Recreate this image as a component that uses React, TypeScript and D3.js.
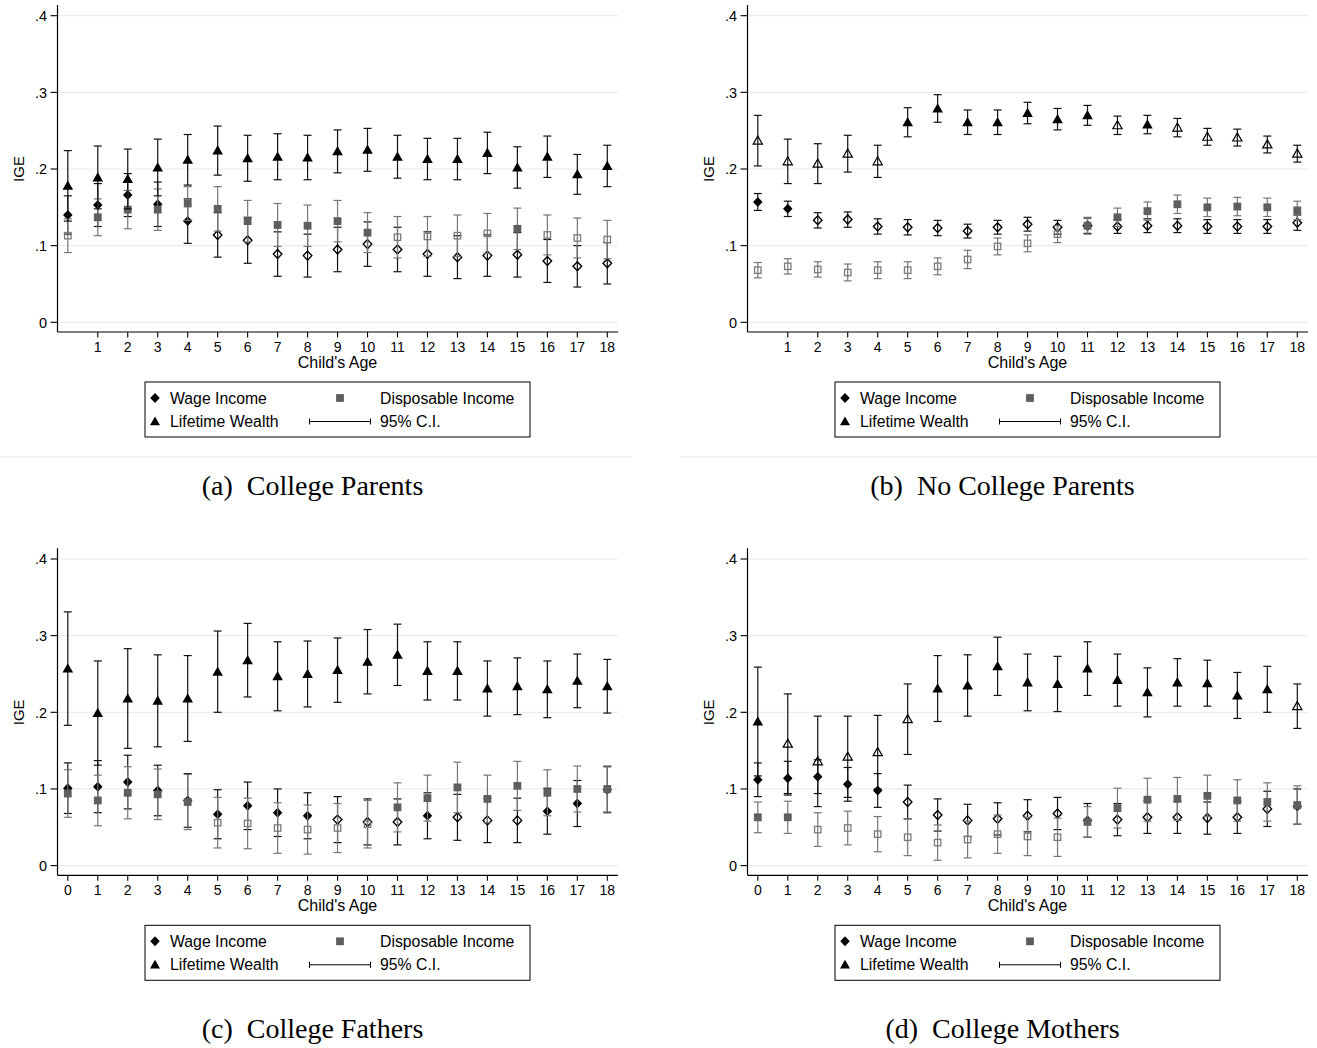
import React from "react";
import * as d3 from "d3";

// ---------- data ----------
const AGES = [0, 1, 2, 3, 4, 5, 6, 7, 8, 9, 10, 11, 12, 13, 14, 15, 16, 17, 18];
const Y_TICKS = [0, 0.1, 0.2, 0.3, 0.4];
const Y_TICK_LABELS = ["0", ".1", ".2", ".3", ".4"];
const LEGEND_LABELS = ["Wage Income", "Disposable Income", "Lifetime Wealth", "95% C.I."];
const X_TITLE = "Child's Age";
const Y_TITLE = "IGE";

// Panel (a) College Parents
const A_WAGE_EST = [0.140, 0.153, 0.166, 0.154, 0.132, 0.114, 0.107, 0.089, 0.087, 0.095, 0.102, 0.095, 0.089, 0.085, 0.087, 0.088, 0.080, 0.073, 0.077];
const A_WAGE_HW = [0.025, 0.028, 0.028, 0.029, 0.029, 0.029, 0.030, 0.029, 0.028, 0.029, 0.029, 0.029, 0.029, 0.028, 0.027, 0.029, 0.028, 0.027, 0.027];
const A_WAGE_SIG = [1, 1, 1, 1, 1, 0, 0, 0, 0, 0, 0, 0, 0, 0, 0, 0, 0, 0, 0];
const A_DISP_EST = [0.113, 0.137, 0.147, 0.147, 0.155, 0.148, 0.132, 0.127, 0.126, 0.132, 0.117, 0.111, 0.112, 0.113, 0.116, 0.122, 0.114, 0.110, 0.108];
const A_DISP_HW = [0.022, 0.024, 0.025, 0.027, 0.022, 0.029, 0.027, 0.028, 0.027, 0.027, 0.026, 0.027, 0.026, 0.027, 0.026, 0.027, 0.026, 0.026, 0.025];
const A_DISP_SIG = [0, 1, 1, 1, 1, 1, 1, 1, 1, 1, 1, 0, 0, 0, 0, 1, 0, 0, 0];
const A_WLTH_EST = [0.178, 0.189, 0.187, 0.202, 0.212, 0.224, 0.214, 0.216, 0.215, 0.223, 0.225, 0.216, 0.213, 0.213, 0.221, 0.202, 0.216, 0.193, 0.204];
const A_WLTH_HW = [0.046, 0.041, 0.039, 0.037, 0.033, 0.032, 0.030, 0.030, 0.029, 0.028, 0.028, 0.028, 0.027, 0.027, 0.027, 0.027, 0.027, 0.026, 0.027];
const A_WLTH_SIG = [1, 1, 1, 1, 1, 1, 1, 1, 1, 1, 1, 1, 1, 1, 1, 1, 1, 1, 1];

// Panel (b) No College Parents
const B_WAGE_EST = [0.157, 0.148, 0.133, 0.134, 0.125, 0.124, 0.123, 0.119, 0.124, 0.128, 0.124, 0.126, 0.125, 0.126, 0.126, 0.125, 0.125, 0.125, 0.130];
const B_WAGE_HW = [0.011, 0.010, 0.010, 0.010, 0.010, 0.010, 0.010, 0.009, 0.009, 0.009, 0.009, 0.010, 0.009, 0.009, 0.009, 0.009, 0.009, 0.009, 0.010];
const B_WAGE_SIG = [1, 1, 0, 0, 0, 0, 0, 0, 0, 0, 0, 0, 0, 0, 0, 0, 0, 0, 0];
const B_DISP_EST = [0.068, 0.073, 0.069, 0.065, 0.068, 0.068, 0.073, 0.082, 0.099, 0.103, 0.115, 0.126, 0.137, 0.145, 0.154, 0.150, 0.151, 0.150, 0.146];
const B_DISP_HW = [0.010, 0.010, 0.010, 0.011, 0.011, 0.011, 0.011, 0.012, 0.011, 0.011, 0.011, 0.011, 0.012, 0.012, 0.012, 0.012, 0.012, 0.012, 0.012];
const B_DISP_SIG = [0, 0, 0, 0, 0, 0, 0, 0, 0, 0, 0, 1, 1, 1, 1, 1, 1, 1, 1];
const B_WLTH_EST = [0.237, 0.210, 0.207, 0.220, 0.210, 0.261, 0.279, 0.261, 0.261, 0.273, 0.265, 0.270, 0.257, 0.258, 0.254, 0.242, 0.241, 0.232, 0.220];
const B_WLTH_HW = [0.033, 0.029, 0.026, 0.024, 0.021, 0.019, 0.018, 0.016, 0.016, 0.014, 0.014, 0.013, 0.012, 0.012, 0.012, 0.011, 0.011, 0.011, 0.011];
const B_WLTH_SIG = [0, 0, 0, 0, 0, 1, 1, 1, 1, 1, 1, 1, 0, 1, 0, 0, 0, 0, 0];

// Panel (c) College Fathers
const C_WAGE_EST = [0.101, 0.103, 0.109, 0.098, 0.085, 0.067, 0.078, 0.069, 0.065, 0.060, 0.057, 0.057, 0.065, 0.063, 0.059, 0.059, 0.071, 0.081, 0.099];
const C_WAGE_HW = [0.033, 0.034, 0.035, 0.033, 0.035, 0.032, 0.031, 0.031, 0.030, 0.030, 0.030, 0.030, 0.030, 0.030, 0.029, 0.029, 0.030, 0.030, 0.030];
const C_WAGE_SIG = [1, 1, 1, 1, 1, 1, 1, 1, 1, 0, 0, 0, 1, 0, 0, 0, 1, 1, 1];
const C_DISP_EST = [0.094, 0.085, 0.095, 0.093, 0.083, 0.056, 0.055, 0.049, 0.047, 0.049, 0.054, 0.076, 0.088, 0.102, 0.087, 0.104, 0.095, 0.100, 0.100];
const C_DISP_HW = [0.031, 0.033, 0.034, 0.033, 0.036, 0.033, 0.033, 0.033, 0.032, 0.032, 0.031, 0.032, 0.030, 0.033, 0.031, 0.032, 0.030, 0.030, 0.030];
const C_DISP_SIG = [1, 1, 1, 1, 1, 0, 0, 0, 0, 0, 0, 1, 1, 1, 1, 1, 1, 1, 1];
const C_WLTH_EST = [0.257, 0.199, 0.218, 0.215, 0.218, 0.253, 0.268, 0.247, 0.250, 0.255, 0.266, 0.275, 0.254, 0.254, 0.231, 0.234, 0.230, 0.241, 0.234];
const C_WLTH_HW = [0.074, 0.068, 0.065, 0.060, 0.056, 0.053, 0.048, 0.045, 0.043, 0.042, 0.042, 0.040, 0.038, 0.038, 0.036, 0.037, 0.037, 0.035, 0.035];
const C_WLTH_SIG = [1, 1, 1, 1, 1, 1, 1, 1, 1, 1, 1, 1, 1, 1, 1, 1, 1, 1, 1];

// Panel (d) College Mothers
const D_WAGE_EST = [0.112, 0.114, 0.116, 0.106, 0.098, 0.083, 0.066, 0.059, 0.061, 0.065, 0.068, 0.059, 0.060, 0.063, 0.063, 0.062, 0.063, 0.074, 0.077];
const D_WAGE_HW = [0.022, 0.022, 0.022, 0.022, 0.022, 0.022, 0.021, 0.021, 0.021, 0.021, 0.021, 0.022, 0.021, 0.021, 0.021, 0.021, 0.021, 0.023, 0.023];
const D_WAGE_SIG = [1, 1, 1, 1, 1, 0, 0, 0, 0, 0, 0, 1, 0, 0, 0, 0, 0, 0, 1];
const D_DISP_EST = [0.063, 0.063, 0.047, 0.049, 0.041, 0.037, 0.030, 0.034, 0.041, 0.038, 0.037, 0.057, 0.075, 0.086, 0.087, 0.091, 0.085, 0.083, 0.079];
const D_DISP_HW = [0.020, 0.021, 0.022, 0.022, 0.023, 0.024, 0.023, 0.024, 0.025, 0.025, 0.025, 0.020, 0.026, 0.028, 0.028, 0.027, 0.027, 0.025, 0.025];
const D_DISP_SIG = [1, 1, 0, 0, 0, 0, 0, 0, 0, 0, 0, 1, 1, 1, 1, 1, 1, 1, 1];
const D_WLTH_EST = [0.188, 0.159, 0.136, 0.142, 0.148, 0.191, 0.231, 0.235, 0.260, 0.239, 0.237, 0.257, 0.242, 0.226, 0.239, 0.238, 0.222, 0.230, 0.208];
const D_WLTH_HW = [0.071, 0.065, 0.059, 0.053, 0.048, 0.046, 0.043, 0.040, 0.038, 0.037, 0.036, 0.035, 0.034, 0.032, 0.031, 0.030, 0.030, 0.030, 0.029];
const D_WLTH_SIG = [1, 0, 0, 0, 0, 0, 1, 1, 1, 1, 1, 1, 1, 1, 1, 1, 1, 1, 0];

const PANELS = [
  { tag: "(a)", title: "College Parents", col: 0, row: 0, zeroTick: false,
    wage: [A_WAGE_EST, A_WAGE_HW, A_WAGE_SIG], disp: [A_DISP_EST, A_DISP_HW, A_DISP_SIG], wlth: [A_WLTH_EST, A_WLTH_HW, A_WLTH_SIG] },
  { tag: "(b)", title: "No College Parents", col: 1, row: 0, zeroTick: false,
    wage: [B_WAGE_EST, B_WAGE_HW, B_WAGE_SIG], disp: [B_DISP_EST, B_DISP_HW, B_DISP_SIG], wlth: [B_WLTH_EST, B_WLTH_HW, B_WLTH_SIG] },
  { tag: "(c)", title: "College Fathers", col: 0, row: 1, zeroTick: true,
    wage: [C_WAGE_EST, C_WAGE_HW, C_WAGE_SIG], disp: [C_DISP_EST, C_DISP_HW, C_DISP_SIG], wlth: [C_WLTH_EST, C_WLTH_HW, C_WLTH_SIG] },
  { tag: "(d)", title: "College Mothers", col: 1, row: 1, zeroTick: true,
    wage: [D_WAGE_EST, D_WAGE_HW, D_WAGE_SIG], disp: [D_DISP_EST, D_DISP_HW, D_DISP_SIG], wlth: [D_WLTH_EST, D_WLTH_HW, D_WLTH_SIG] },
];

// ---------- style ----------
const W = 1317;
const H = 1048;
const COL_OFF = [0, 690];
const ROW_OFF = [0, 543.3];
const SANS = "'Liberation Sans', Arial, sans-serif";
const SERIF = "'Liberation Serif', 'Times New Roman', serif";
const GRID = "#e6eef0";
const BLACK = "#000";
const DISP_FILL = "#5e5e5e";
const DISP_LINE = "#767676";
const DISP_HOLLOW = "#7a7a7a";

const AXIS_X = 57.5;
const AXIS_Y = 332;
const PLOT_RIGHT = 618;
const PLOT_TOP = 5;

const x = d3.scaleLinear().domain([0, 18]).range([67.8, 607.3]);
const y = d3.scaleLinear().domain([0, 0.4]).range([322.3, 15.7]);

function diamondPath(cx: number, cy: number, r: number) {
  const p = d3.path();
  p.moveTo(cx, cy - r);
  p.lineTo(cx + r * 0.95, cy);
  p.lineTo(cx, cy + r);
  p.lineTo(cx - r * 0.95, cy);
  p.closePath();
  return p.toString();
}
function trianglePath(cx: number, cy: number, r: number) {
  const p = d3.path();
  p.moveTo(cx, cy - r);
  p.lineTo(cx + r, cy + r * 0.75);
  p.lineTo(cx - r, cy + r * 0.75);
  p.closePath();
  return p.toString();
}

type Kind = "wage" | "disp" | "wlth";

function Marker({ kind, cx, cy, filled }: { kind: Kind; cx: number; cy: number; filled: boolean }) {
  if (kind === "wage") {
    return filled ? (
      <path d={diamondPath(cx, cy, 5)} fill={BLACK} />
    ) : (
      <path d={diamondPath(cx, cy, 4.5)} fill="none" stroke={BLACK} strokeWidth={1.4} />
    );
  }
  if (kind === "wlth") {
    return filled ? (
      <path d={trianglePath(cx, cy, 5.3)} fill={BLACK} />
    ) : (
      <path d={trianglePath(cx, cy, 4.6)} fill="none" stroke={BLACK} strokeWidth={1.2} />
    );
  }
  return filled ? (
    <rect x={cx - 3.9} y={cy - 3.9} width={7.8} height={7.8} fill={DISP_FILL} />
  ) : (
    <rect x={cx - 3.2} y={cy - 3.2} width={6.4} height={6.4} fill="none" stroke={DISP_HOLLOW} strokeWidth={1.3} />
  );
}

function Series({ kind, est, hw, sig }: { kind: Kind; est: number[]; hw: number[]; sig: number[] }) {
  const col = kind === "disp" ? DISP_LINE : "#111";
  return (
    <g>
      {AGES.map((a, i) => {
        const cx = x(a);
        const y1 = y(est[i] + hw[i]);
        const y0 = y(est[i] - hw[i]);
        return (
          <g key={"ci" + a} stroke={col} strokeWidth={1.2}>
            <line x1={cx} x2={cx} y1={y1} y2={y0} />
            <line x1={cx - 4} x2={cx + 4} y1={y1} y2={y1} />
            <line x1={cx - 4} x2={cx + 4} y1={y0} y2={y0} />
          </g>
        );
      })}
      {AGES.map((a, i) => (
        <Marker key={"m" + a} kind={kind} cx={x(a)} cy={y(est[i])} filled={sig[i] === 1} />
      ))}
    </g>
  );
}

function Panel({ p }: { p: (typeof PANELS)[number] }) {
  const ox = COL_OFF[p.col];
  const oy = ROW_OFF[p.row];
  const xt = p.zeroTick ? AGES : AGES.filter((a) => a > 0);
  return (
    <g transform={`translate(${ox},${oy})`}>
      {/* grid */}
      {Y_TICKS.map((t) => (
        <line key={"g" + t} x1={AXIS_X} x2={PLOT_RIGHT} y1={y(t)} y2={y(t)} stroke={GRID} strokeWidth={1.2} />
      ))}
      {/* axes */}
      <line x1={AXIS_X} x2={AXIS_X} y1={PLOT_TOP} y2={AXIS_Y} stroke={BLACK} strokeWidth={1.2} />
      <line x1={AXIS_X} x2={PLOT_RIGHT} y1={AXIS_Y} y2={AXIS_Y} stroke={BLACK} strokeWidth={1.2} />
      {Y_TICKS.map((t, i) => (
        <g key={"yt" + t}>
          <line x1={AXIS_X - 7} x2={AXIS_X} y1={y(t)} y2={y(t)} stroke={BLACK} strokeWidth={1.1} />
          <text x={47} y={y(t) + 5.3} textAnchor="end" fontFamily={SANS} fontSize={14.5} fill={BLACK}>
            {Y_TICK_LABELS[i]}
          </text>
        </g>
      ))}
      {xt.map((a) => (
        <g key={"xt" + a}>
          <line x1={x(a)} x2={x(a)} y1={AXIS_Y} y2={AXIS_Y + 5.5} stroke={BLACK} strokeWidth={1.1} />
          <text x={x(a)} y={351.8} textAnchor="middle" fontFamily={SANS} fontSize={14} fill={BLACK}>
            {a}
          </text>
        </g>
      ))}
      <text x={337.5} y={368} textAnchor="middle" fontFamily={SANS} fontSize={16} fill={BLACK}>
        {X_TITLE}
      </text>
      <text
        transform={`translate(23.5,169) rotate(-90)`}
        textAnchor="middle"
        fontFamily={SANS}
        fontSize={15}
        fill={BLACK}
      >
        {Y_TITLE}
      </text>

      {/* data */}
      <Series kind="wage" est={p.wage[0]} hw={p.wage[1]} sig={p.wage[2]} />
      <Series kind="disp" est={p.disp[0]} hw={p.disp[1]} sig={p.disp[2]} />
      <Series kind="wlth" est={p.wlth[0]} hw={p.wlth[1]} sig={p.wlth[2]} />

      {/* legend */}
      <rect x={145} y={382} width={385} height={55} fill="#fff" stroke={BLACK} strokeWidth={1} />
      <Marker kind="wage" cx={155} cy={398} filled={true} />
      <text x={170} y={403.5} fontFamily={SANS} fontSize={15.8} fill={BLACK}>{LEGEND_LABELS[0]}</text>
      <Marker kind="disp" cx={340} cy={398} filled={true} />
      <text x={380} y={403.5} fontFamily={SANS} fontSize={15.8} fill={BLACK}>{LEGEND_LABELS[1]}</text>
      <path d={trianglePath(155, 421.5, 5)} fill={BLACK} />
      <text x={170} y={427} fontFamily={SANS} fontSize={15.8} fill={BLACK}>{LEGEND_LABELS[2]}</text>
      <g stroke={BLACK} strokeWidth={1}>
        <line x1={309.5} x2={370.5} y1={421.5} y2={421.5} />
        <line x1={309.5} x2={309.5} y1={418.5} y2={424.5} />
        <line x1={370.5} x2={370.5} y1={418.5} y2={424.5} />
      </g>
      <text x={380} y={427} fontFamily={SANS} fontSize={15.8} fill={BLACK}>{LEGEND_LABELS[3]}</text>

      {/* separator */}
      {p.row === 0 && (
        <line x1={p.col === 0 ? 0 : -10} x2={632} y1={457} y2={457} stroke="#e3e9e9" strokeWidth={1} />
      )}

      {/* caption */}
      <text x={312.5} y={495} textAnchor="middle" fontFamily={SERIF} fontSize={28} fill={BLACK}>
        <tspan>{p.tag}</tspan>
        <tspan dx={14}>{p.title}</tspan>
      </text>
    </g>
  );
}

export default function App() {
  return (
    <svg
      width={W}
      height={H}
      viewBox={`0 0 ${W} ${H}`}
      style={{ position: "absolute", left: 0, top: 0, background: "#fff" }}
    >
      <rect x={0} y={0} width={W} height={H} fill="#fff" />
      {PANELS.map((p) => (
        <Panel key={p.tag} p={p} />
      ))}
    </svg>
  );
}
